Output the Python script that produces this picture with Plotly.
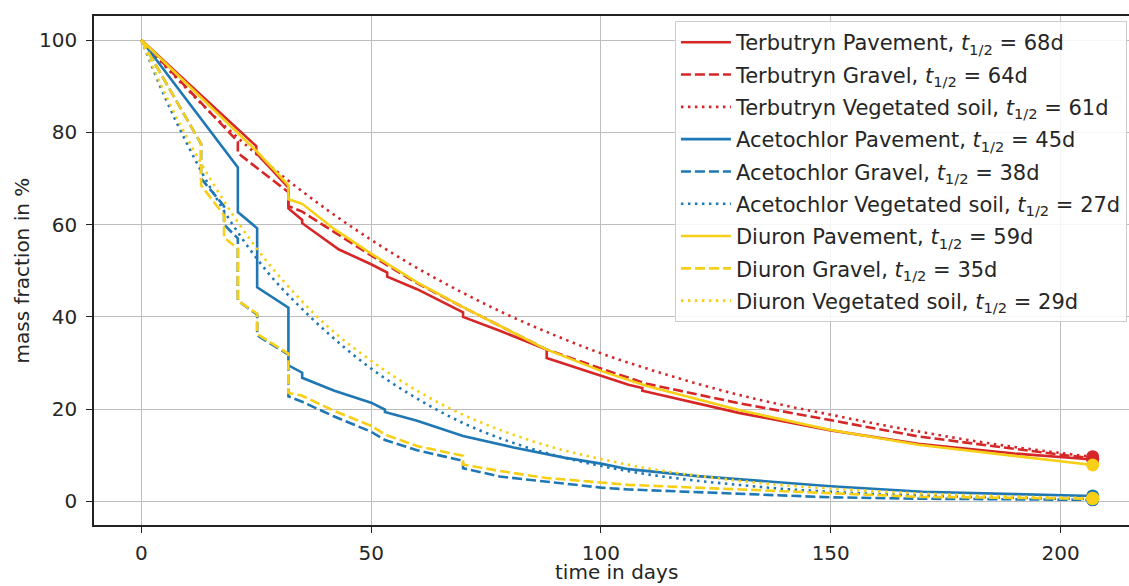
import plotly.graph_objects as go

# ---------------- data ----------------
terb_pav_days = [0, 25, 25, 32, 32, 35, 35, 43, 50, 53.5, 53.5, 60, 70, 70, 78, 88.2, 88.2, 100, 106, 109, 109, 130, 150, 169, 190, 207]
terb_pav_vals = [100, 77.0, 75.5, 68.0, 63.5, 61.0, 60.3, 54.6, 51.4, 49.6, 48.7, 46.0, 41.0, 40.0, 37.0, 32.9, 31.1, 27.3, 25.3, 24.6, 24.0, 19.2, 15.4, 12.5, 10.4, 9.1]

terb_grav_days = [0, 21, 21, 32, 32, 35, 50, 60, 70, 80, 88, 100, 110, 130, 150, 169, 190, 207]
terb_grav_vals = [100, 78.0, 75.5, 67.0, 64.0, 62.8, 53.3, 47.3, 42.1, 37.0, 33.0, 28.8, 25.5, 21.3, 17.6, 14.1, 11.4, 9.3]

smooth_days = [0, 5, 10, 15, 20, 25, 30, 40, 50, 60, 70, 80, 90, 100, 110, 120, 130, 140, 150, 160, 170, 180, 190, 200, 207]
terb_veg_vals = [100, 94.5, 89.3, 84.3, 79.7, 75.3, 71.1, 63.5, 56.7, 50.6, 45.2, 40.3, 36.0, 32.1, 28.8, 25.8, 23.1, 20.8, 18.8, 16.8, 15.0, 13.3, 11.8, 10.5, 9.7]

acet_pav_days = [0, 21, 21, 25.2, 25.2, 32, 32, 35, 35, 42, 50, 53, 53, 60, 70, 81, 92, 100, 106, 121, 150, 170, 190, 207]
acet_pav_vals = [100, 72.4, 62.7, 59.2, 46.4, 42.0, 29.5, 27.9, 26.8, 24.0, 21.4, 19.9, 19.4, 17.5, 14.2, 11.7, 9.5, 8.2, 7.0, 5.5, 3.3, 2.1, 1.6, 1.2]

acet_grav_days = [0, 13, 13, 18, 18, 21, 21, 25.2, 25.2, 32, 32, 35, 42, 50, 53, 60, 70, 70, 78, 88, 100, 106, 150, 169, 207]
acet_grav_vals = [100, 77.5, 70.0, 64.0, 60.0, 57.0, 43.5, 40.5, 36.0, 31.8, 22.8, 21.6, 18.4, 15.1, 13.3, 11.1, 8.8, 7.2, 5.4, 4.3, 3.0, 2.6, 0.9, 0.6, 0.35]

acet_veg_vals = [100, 87.9, 77.4, 68.0, 59.8, 52.8, 46.8, 37.0, 28.8, 22.3, 17.0, 13.0, 10.0, 7.7, 5.9, 4.6, 3.6, 2.7, 2.1, 1.6, 1.3, 1.0, 0.8, 0.6, 0.5]

diur_pav_days = [0, 25, 32, 32, 35, 42, 50, 60, 70, 80, 88, 100, 110, 130, 150, 169, 190, 207]
diur_pav_vals = [100, 76.0, 68.5, 65.5, 64.5, 59.0, 53.7, 47.5, 42.1, 37.0, 33.0, 28.3, 25.0, 19.8, 15.5, 12.3, 9.9, 7.9]

diur_grav_days = [0, 13, 13, 18, 18, 21, 21, 25.2, 25.2, 32, 32, 35, 42, 50, 53, 60, 70, 70, 78, 88, 100, 106, 150, 169, 207]
diur_grav_vals = [100, 77.5, 68.5, 62.0, 57.2, 54.8, 43.5, 40.7, 36.3, 32.0, 23.5, 22.9, 19.6, 16.4, 14.5, 12.0, 9.9, 8.0, 6.6, 5.1, 4.1, 3.6, 1.8, 1.0, 0.6]

diur_veg_vals = [100, 88.7, 78.7, 69.9, 62.0, 55.0, 48.8, 38.4, 30.5, 24.0, 18.8, 14.8, 11.6, 9.2, 7.2, 5.7, 4.5, 3.5, 2.8, 2.2, 1.7, 1.35, 1.06, 0.84, 0.71]

names = [
    "Terbutryn Pavement", "Terbutryn Gravel", "Terbutryn Vegetated soil",
    "Acetochlor Pavement", "Acetochlor Gravel", "Acetochlor Vegetated soil",
    "Diuron Pavement", "Diuron Gravel", "Diuron Vegetated soil",
]
half_lives = [68, 64, 61, 45, 38, 27, 59, 35, 29]

x_ticks = [0, 50, 100, 150, 200]
y_ticks = [0, 20, 40, 60, 80, 100]

series_x = [terb_pav_days, terb_grav_days, smooth_days,
            acet_pav_days, acet_grav_days, smooth_days,
            diur_pav_days, diur_grav_days, smooth_days]
series_y = [terb_pav_vals, terb_grav_vals, terb_veg_vals,
            acet_pav_vals, acet_grav_vals, acet_veg_vals,
            diur_pav_vals, diur_grav_vals, diur_veg_vals]

# ---------------- styles ----------------
RED, BLUE, GOLD = "#d62728", "#1f77b4", "#f7cf17"
colors = [RED] * 3 + [BLUE] * 3 + [GOLD] * 3
dashes = ["solid", "10px,4px", "2.5px,4.5px"] * 3
shapes = ["linear", "linear", "spline"] * 3

FONT = "DejaVu Sans"
TXT = "#262626"

fig = go.Figure()
for i in range(9):
    fig.add_trace(go.Scatter(
        x=series_x[i], y=series_y[i], mode="lines",
        line=dict(color=colors[i], width=2.6, dash=dashes[i], shape=shapes[i]),
        name=f"{names[i]}, <i>t</i><sub>1/2</sub> = {half_lives[i]}d",
        legendgroup=f"g{i}",
    ))
# end-point markers
for i in range(9):
    fig.add_trace(go.Scatter(
        x=[series_x[i][-1]], y=[series_y[i][-1]], mode="markers",
        marker=dict(color=colors[i], size=13, line=dict(width=0)),
        showlegend=False, hoverinfo="skip",
    ))

fig.update_layout(
    width=1129, height=586,
    margin=dict(l=94, r=0, t=16, b=61, autoexpand=False),
    paper_bgcolor="white", plot_bgcolor="white",
    font=dict(family=FONT, size=20, color=TXT),
    legend=dict(
        x=0.998, xanchor="right", y=0.99, yanchor="top",
        bgcolor="rgba(255,255,255,0.85)", bordercolor="#cccccc", borderwidth=1,
        font=dict(family=FONT, size=21, color=TXT),
        tracegroupgap=2, itemwidth=50,
    ),
    showlegend=True,
    annotations=[
        dict(text="time in days", xref="paper", yref="paper", x=0.505, y=-0.1179,
             xanchor="center", yanchor="bottom", showarrow=False, borderpad=0,
             font=dict(family=FONT, size=20, color=TXT)),
        dict(text="mass fraction in %", xref="paper", yref="paper", x=-0.0696, y=0.5,
             xanchor="center", yanchor="middle", textangle=-90, showarrow=False,
             font=dict(family=FONT, size=20, color=TXT)),
    ],
)
fig.update_xaxes(
    range=[-10.3, 214.9],
    tickvals=x_ticks, automargin=False,
    showgrid=True, gridcolor="#bdbdbd", gridwidth=1,
    zeroline=False,
    showline=True, linecolor="#222222", linewidth=1.5, mirror=True,
    ticks="outside", ticklen=6, tickwidth=1.3, tickcolor="#222222",
    ticklabelstandoff=3,
    tickfont=dict(family=FONT, size=20, color=TXT),
)
fig.update_yaxes(
    range=[-5.1, 105.2],
    tickvals=y_ticks, automargin=False,
    showgrid=True, gridcolor="#bdbdbd", gridwidth=1,
    zeroline=False,
    showline=True, linecolor="#222222", linewidth=1.5,
    ticks="outside", ticklen=6, tickwidth=1.3, tickcolor="#222222",
    ticklabelstandoff=5,
    tickfont=dict(family=FONT, size=20, color=TXT),
)

fig.write_html("out.html", config={"displayModeBar": False},
               post_script="document.body.style.margin='0px';")
